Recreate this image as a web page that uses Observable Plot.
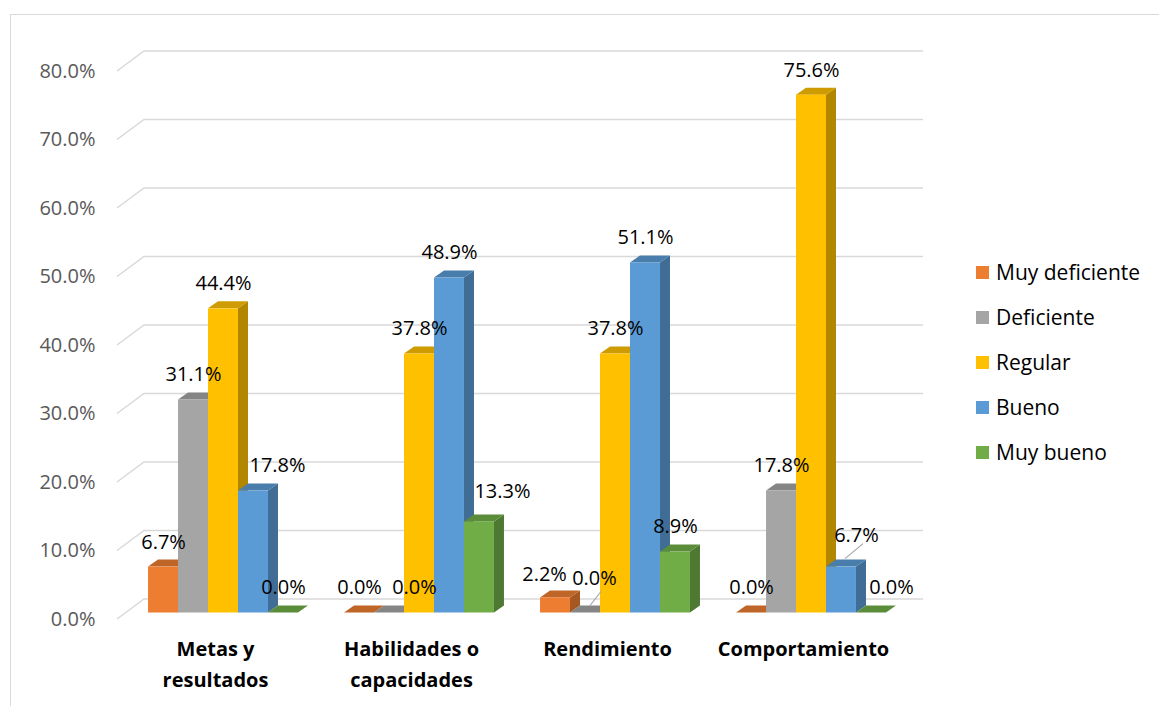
<!DOCTYPE html>
<html>
<head>
<meta charset="utf-8">
<script src="https://cdn.jsdelivr.net/npm/d3@7"></script>
<script src="https://cdn.jsdelivr.net/npm/@observablehq/plot@0.6"></script>
<style>
  html, body { margin: 0; padding: 0; background: #fff; overflow: hidden; }
  #wrap { position: relative; width: 1159px; height: 706px; font-family: "Open Sans", sans-serif; }
  #frame { position: absolute; left: 10px; top: 14px; width: 1300px; height: 900px; border: 1px solid #d9d9d9; box-sizing: border-box; }
  #chart { position: absolute; left: 0; top: 0; }
  #legend { position: absolute; left: 976px; top: 258px; }
  #legend .lg-swatch { margin-bottom: 16px !important; color: #000; }
  #legend svg { margin-right: 7px !important; }
</style>
</head>
<body>
<div id="wrap">
  <div id="frame"></div>
  <div id="chart"></div>
  <div id="legend"></div>
</div>
<script>
// ---------- data ----------
const categories = ["Metas y resultados", "Habilidades o capacidades", "Rendimiento", "Comportamiento"];
const categoryLines = ["Metas y\nresultados", "Habilidades o\ncapacidades", "Rendimiento", "Comportamiento"];
const series = ["Muy deficiente", "Deficiente", "Regular", "Bueno", "Muy bueno"];
const colors = ["#ED7D31", "#A5A5A5", "#FFC000", "#5B9BD5", "#70AD47"];
const muyDeficiente = [6.7, 0.0, 2.2, 0.0];
const deficiente    = [31.1, 0.0, 0.0, 17.8];
const regular       = [44.4, 37.8, 37.8, 75.6];
const bueno         = [17.8, 48.9, 51.1, 6.7];
const muyBueno      = [0.0, 13.3, 8.9, 0.0];
const yTicks = [0, 10, 20, 30, 40, 50, 60, 70, 80];

// label nudges (pixels) for labels moved off their default place
const labelNudges = [
  {category: "Metas y resultados", series: "Bueno", dx: 24, dy: 0},
  {category: "Habilidades o capacidades", series: "Deficiente", dx: 25, dy: 0},
  {category: "Habilidades o capacidades", series: "Muy bueno", dx: 23, dy: -5},
  {category: "Rendimiento", series: "Muy deficiente", dx: -11, dy: 2},
  {category: "Rendimiento", series: "Deficiente", dx: 9, dy: -9},
  {category: "Comportamiento", series: "Bueno", dx: 15, dy: -7},
  {category: "Comportamiento", series: "Muy bueno", dx: 20, dy: 0}
];
// leader lines (pixel offsets from bar top)
const leaders = [
  {category: "Rendimiento", series: "Deficiente", from: [5, -7], to: [16, -21]},
  {category: "Comportamiento", series: "Bueno", from: [4, -8], to: [22, -23]}
];

// ---------- table ----------
const seriesValues = [muyDeficiente, deficiente, regular, bueno, muyBueno];
const GROUP = 0.765;           // share of a category slot taken by its 5 bars
const BW = GROUP / series.length;
const rows = [];
categories.forEach((c, ci) => {
  series.forEach((s, si) => {
    const x1 = ci - GROUP / 2 + si * BW;
    rows.push({category: c, ci, series: s, si, value: seriesValues[si][ci], x1, x2: x1 + BW, xc: x1 + BW / 2});
  });
});
const key = (c, s) => c + "|" + s;
const byKey = new Map(rows.map(r => [key(r.category, r.series), r]));
const nudgeKeys = new Set(labelNudges.map(n => key(n.category, n.series)));

// ---------- 3D helpers ----------
const NS = "http://www.w3.org/2000/svg";
function poly(pts, fill) {
  const p = document.createElementNS(NS, "polygon");
  p.setAttribute("points", pts.map(d => d.join(",")).join(" "));
  p.setAttribute("fill", fill);
  return p;
}
const BAR_DX = 10, BAR_DY = -7;
function bar3d(index, scales, values, dims, ctx, next) {
  const g = next(index, scales, values, dims, ctx);
  const rects = Array.from(g.querySelectorAll("rect"));
  for (const r of rects) {
    const x = +r.getAttribute("x"), y = +r.getAttribute("y");
    const w = +r.getAttribute("width"), h = +(r.getAttribute("height") || 0);
    const c = d3.color(r.getAttribute("fill") || "#999");
    const side = poly([[x + w, y], [x + w + BAR_DX, y + BAR_DY], [x + w + BAR_DX, y + h + BAR_DY], [x + w, y + h]], c.darker(1.0).formatHex());
    const top = poly([[x, y], [x + BAR_DX, y + BAR_DY], [x + w + BAR_DX, y + BAR_DY], [x + w, y]], c.darker(0.6).formatHex());
    g.insertBefore(side, r);
    g.insertBefore(top, r);
  }
  return g;
}
function gridRender(index, scales, values, dims) {
  const g = document.createElementNS(NS, "g");
  const x0 = dims.marginLeft, x1 = dims.width - dims.marginRight + 22;
  for (const i of index) {
    const y = scales.y(yTicks[i]);
    const p = document.createElementNS(NS, "path");
    p.setAttribute("d", `M${x0},${y}L${x0 + 27},${y - 20}H${x1}`);
    p.setAttribute("fill", "none");
    p.setAttribute("stroke", "#d9d9d9");
    p.setAttribute("stroke-width", "1.5");
    g.appendChild(p);
  }
  return g;
}
function leaderRender(index, scales) {
  const g = document.createElementNS(NS, "g");
  for (const i of index) {
    const L = leaders[i];
    const r = byKey.get(key(L.category, L.series));
    const X = scales.x(r.xc) + 8, Y = scales.y(r.value) - 6.5;
    const p = document.createElementNS(NS, "line");
    p.setAttribute("x1", X + L.from[0]); p.setAttribute("y1", Y + L.from[1]);
    p.setAttribute("x2", X + L.to[0]);   p.setAttribute("y2", Y + L.to[1]);
    p.setAttribute("stroke", "#a6a6a6");
    p.setAttribute("stroke-width", "1.2");
    g.appendChild(p);
  }
  return g;
}

const fmt = v => v.toFixed(1) + "%";
const LABEL_SIZE = 20;
const labelMarks = [
  Plot.text(rows.filter(r => !nudgeKeys.has(key(r.category, r.series))), {
    x: "xc", y: "value", text: d => fmt(d.value), dx: 8, dy: -31.5, fill: "#000", fontSize: LABEL_SIZE
  }),
  ...labelNudges.map(n => Plot.text([byKey.get(key(n.category, n.series))], {
    x: "xc", y: "value", text: d => fmt(d.value), dx: 8 + n.dx, dy: -31.5 + n.dy, fill: "#000", fontSize: LABEL_SIZE
  }))
];

const chart = Plot.plot({
  width: 960,
  height: 706,
  marginLeft: 117,
  marginRight: 59,
  marginTop: 71,
  marginBottom: 87,
  style: {fontFamily: "'Open Sans', sans-serif", fontSize: "20px", background: "transparent", overflow: "visible"},
  x: {type: "linear", domain: [-0.5, 3.5]},
  y: {domain: [0, 80]},
  color: {domain: series, range: colors},
  marks: [
    Plot.ruleY(yTicks, {y: d => d, render: gridRender}),
    Plot.axisY({ticks: yTicks, tickFormat: d => d.toFixed(1) + "%", tickSize: 0, tickPadding: 22, fontSize: 20, fill: "#595959", label: null}),
    Plot.axisX({ticks: [0, 1, 2, 3], tickFormat: i => categoryLines[i], tickSize: 0, tickPadding: 14, fontSize: 20, fontWeight: "bold", fill: "#000", lineHeight: 1.55, label: null}),
    Plot.rect(rows, {x1: "x1", x2: "x2", y1: d => 0, y2: "value", fill: "series", dx: 8, dy: -6.5, render: bar3d}),
    ...labelMarks,
    Plot.dot(leaders, {x: d => byKey.get(key(d.category, d.series)).xc, y: d => byKey.get(key(d.category, d.series)).value, render: leaderRender})
  ]
});
document.getElementById("chart").appendChild(chart);

const legend = Plot.legend({
  color: {domain: series, range: colors},
  legend: "swatches",
  columns: 1,
  swatchSize: 13,
  className: "lg",
  style: {fontSize: "21px", fontFamily: "'Open Sans', sans-serif", color: "#000"}
});
document.getElementById("legend").appendChild(legend);
</script>
</body>
</html>
